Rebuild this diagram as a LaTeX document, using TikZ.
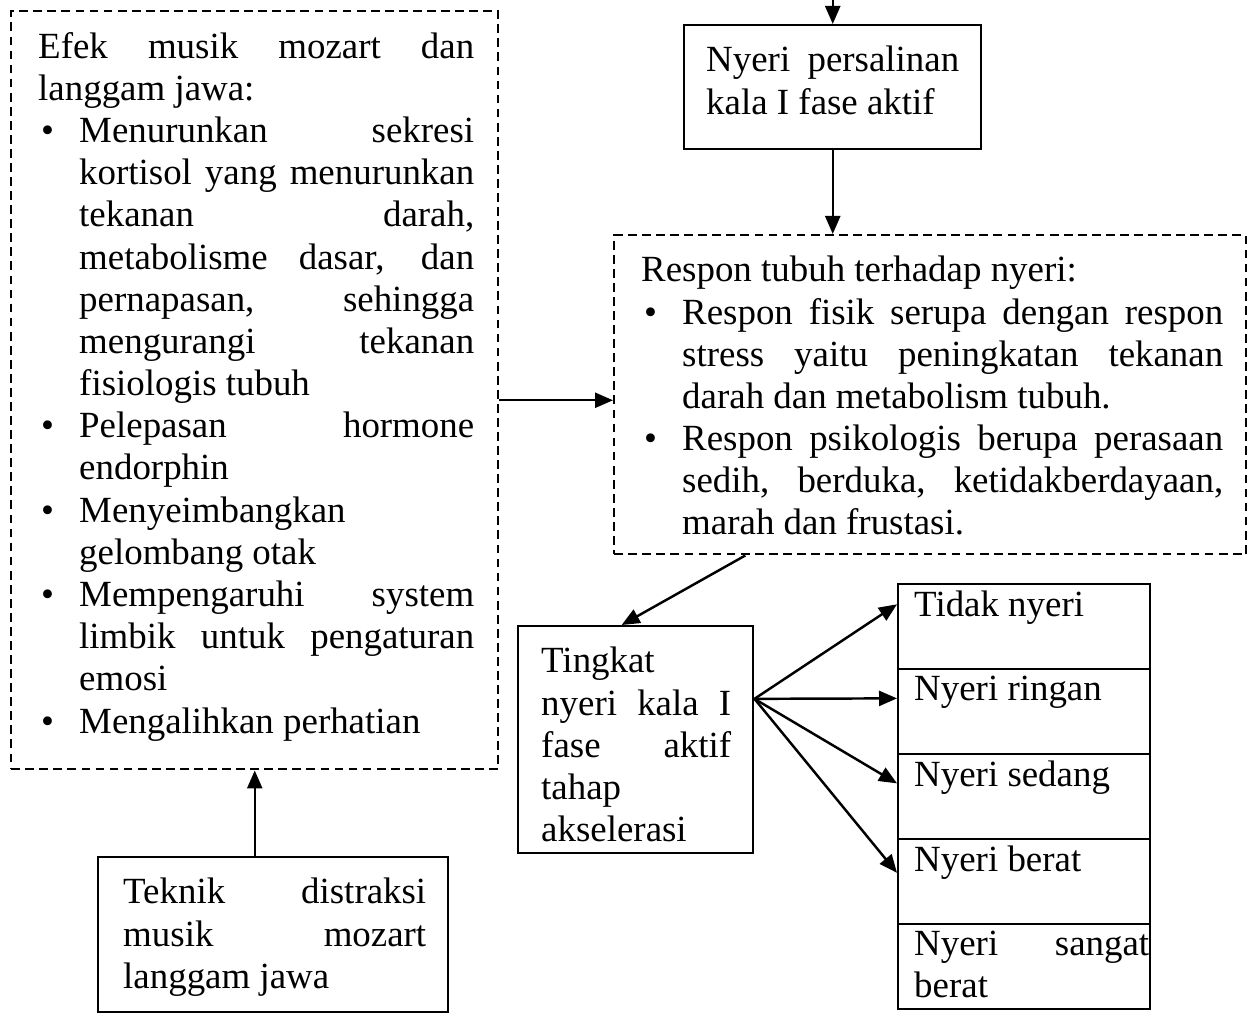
\documentclass[tikz,border=0pt]{standalone}
\usepackage{fontspec}
\setmainfont{Liberation Serif}
\usetikzlibrary{arrows.meta, positioning}

\tolerance=10000
\hbadness=10000
\newcommand{\butir}{\par\hangindent=0.82cm\hangafter=1\noindent\makebox[0.82cm][l]{\hspace*{0.06cm}\textbullet}}

\begin{document}
\begin{tikzpicture}[>={Triangle[length=0.36cm, width=0.3cm]}, line width=1.4pt,
		kotak/.style={draw, rectangle, anchor=north west},
		garis/.style={draw, rectangle, anchor=north west, dash pattern=on 5pt off 3pt},
		teks/.style={anchor=north west, align=justify, inner xsep=0.5cm, inner ysep=0.42cm, font=\fontsize{21}{24}\selectfont}]
		\useasboundingbox (0,0) rectangle (24.98,-20.3);
		% kotak kiri
		\node[garis, minimum width=9.74cm, minimum height=15.16cm] (efek) at (0.2, -0.2) {};
		\node[teks, text width=8.72cm, inner xsep=0.54cm] (efek_isi) at (efek.north west) {Efek musik mozart dan\linebreak langgam jawa:
			\butir Menurunkan sekresi\linebreak kortisol yang menurunkan\linebreak tekanan darah,\linebreak metabolisme dasar, dan\linebreak pernapasan, sehingga\linebreak mengurangi tekanan\linebreak fisiologis tubuh
			\butir Pelepasan hormone\linebreak endorphin
			\butir Menyeimbangkan\linebreak gelombang otak
			\butir Mempengaruhi system\linebreak limbik untuk pengaturan\linebreak emosi
			\butir Mengalihkan perhatian\par};
		% atas
		\node[kotak, minimum width=5.94cm, minimum height=2.48cm] (nyeri) at (13.66, -0.48) {};
		\node[teks, text width=5.06cm, inner xsep=0.44cm] (nyeri_isi) at (nyeri.north west) {Nyeri persalinan\linebreak kala I fase aktif};
		\node[garis, minimum width=12.64cm, minimum height=6.38cm] (respon) at (12.26, -4.68) {};
		\node[teks, text width=11.64cm, inner xsep=0.54cm] (respon_isi) at (respon.north west) {Respon tubuh terhadap nyeri:
			\butir Respon fisik serupa dengan respon\linebreak stress yaitu peningkatan tekanan\linebreak darah dan metabolism tubuh.
			\butir Respon psikologis berupa perasaan\linebreak sedih, berduka, ketidakberdayaan,\linebreak marah dan frustasi.\par};
		% bawah
		\node[kotak, minimum width=4.7cm, minimum height=4.54cm] (tingkat) at (10.34, -12.5) {};
		\node[teks, text width=3.8cm, inner xsep=0.46cm] (tingkat_isi) at (tingkat.north west) {Tingkat\newline nyeri kala I\linebreak fase aktif\linebreak tahap\newline akselerasi};
		\node[kotak, minimum width=7cm, minimum height=3.1cm] (teknik) at (1.94, -17.12) {};
		\node[teks, text width=6.06cm] (teknik_isi) at (teknik.north west) {Teknik distraksi\linebreak musik mozart\linebreak langgam jawa};
		% skala nyeri
		\node[kotak, minimum width=5.04cm, minimum height=1.7cm] (r1) at (17.94, -11.66) {};
		\node[teks, text width=4.7cm, inner xsep=0.32cm, inner ysep=0.14cm] (r1_isi) at (r1.north west) {Tidak nyeri};
		\node[kotak, minimum width=5.04cm, minimum height=1.7cm] (r2) at (17.94, -13.36) {};
		\node[teks, text width=4.7cm, inner xsep=0.32cm, inner ysep=0.14cm] (r2_isi) at (r2.north west) {Nyeri ringan};
		\node[kotak, minimum width=5.04cm, minimum height=1.7cm] (r3) at (17.94, -15.06) {};
		\node[teks, text width=4.7cm, inner xsep=0.32cm, inner ysep=0.14cm] (r3_isi) at (r3.north west) {Nyeri sedang};
		\node[kotak, minimum width=5.04cm, minimum height=1.7cm] (r4) at (17.94, -16.76) {};
		\node[teks, text width=4.7cm, inner xsep=0.32cm, inner ysep=0.14cm] (r4_isi) at (r4.north west) {Nyeri berat};
		\node[kotak, minimum width=5.04cm, minimum height=1.7cm] (r5) at (17.94, -18.46) {};
		\node[teks, text width=4.7cm, inner xsep=0.32cm, inner ysep=0.14cm] (r5_isi) at (r5.north west) {Nyeri sangat\linebreak berat};
		\coordinate[above=0.48cm of nyeri.north] (awal);
		\draw[->] (awal) -- (nyeri);
		\draw[->] (nyeri) -- (nyeri.south |- respon.north);
		\draw[->] (efek.east |- respon.181) -- (respon.181);
		\draw[->] (respon.221) -- (tingkat.97);
		\draw[->] (tingkat.19) -- (r1.170);
		\draw[->] (tingkat.19) -- (r2.174);
		\draw[->] (tingkat.19) -- (r3.174);
		\draw[->] (tingkat.19) -- (r4.176);
		\draw[->] (efek.south |- teknik.north) -- (efek.south);
	\end{tikzpicture}
\end{document}
